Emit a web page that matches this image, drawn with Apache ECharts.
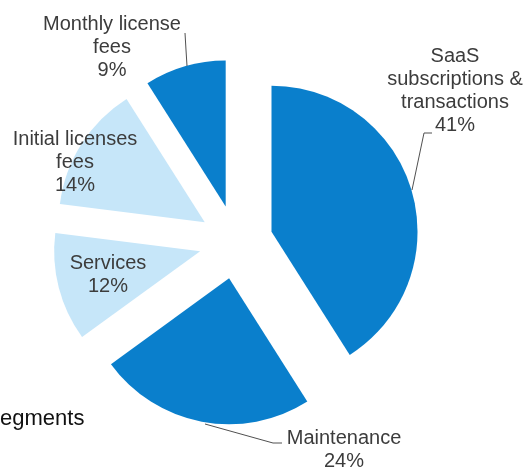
<!DOCTYPE html>
<html>
<head>
<meta charset="utf-8">
<script src="https://cdn.jsdelivr.net/npm/echarts@6/dist/echarts.min.js"></script>
<style>
html,body{margin:0;padding:0;background:#fff;}
#chart{width:531px;height:469px;}
</style>
</head>
<body>
<div id="chart"></div>
<script>
const categories = ['SaaS\nsubscriptions &\ntransactions', 'Maintenance', 'Services', 'Initial licenses\nfees', 'Monthly license\nfees'];
const values = [41, 24, 12, 14, 9];
const sliceColors = ['#0a7fcc', '#0a7fcc', '#c6e6f9', '#c6e6f9', '#0a7fcc'];
const titleText = 'egments';

// label anchor (block centre) and leader line per slice (layout only)
const labelPos = [
  { x: 455, y: 91, line: [[412, 190], [424, 133], [432, 133]] },
  { x: 344, y: 450, line: [[205, 424], [273, 443], [282, 443]] },
  { x: 108, y: 275, line: null },
  { x: 75, y: 162, line: null },
  { x: 112, y: 47, line: [[187, 66], [186, 50], [185, 33]] }
];

const chart = echarts.init(document.getElementById('chart'), null, { renderer: 'canvas' });
const common = {
  type: 'pie',
  center: [236, 242],
  radius: 146,
  startAngle: 90,
  clockwise: true,
  avoidLabelOverlap: false,
  emphasis: { disabled: true }
};
chart.setOption({
  animation: false,
  backgroundColor: '#ffffff',
  title: {
    text: titleText,
    left: 0,
    top: 408,
    padding: 0,
    textStyle: { fontFamily: 'Liberation Sans', fontSize: 22, fontWeight: 'normal', color: '#111111' }
  },
  series: [
    Object.assign({}, common, {
      selectedMode: 'multiple',
      selectedOffset: 37,
      label: { show: false },
      labelLine: { show: false },
      data: categories.map((name, i) => ({
        name: name,
        value: values[i],
        selected: true,
        itemStyle: { color: sliceColors[i] }
      }))
    }),
    Object.assign({}, common, {
      silent: true,
      z: 3,
      itemStyle: { color: 'rgba(0,0,0,0)' },
      label: {
        show: true,
        position: 'outside',
        formatter: '{b}\n{d}%',
        fontFamily: 'Liberation Sans',
        fontSize: 20,
        lineHeight: 23,
        color: '#3c3c3c',
        align: 'center'
      },
      labelLine: {
        show: true,
        smooth: false,
        lineStyle: { color: '#505050', width: 1 }
      },
      labelLayout: function (params) {
        const p = labelPos[params.dataIndex];
        const out = { x: p.x, y: p.y, align: 'center', verticalAlign: 'middle' };
        if (p.line) out.labelLinePoints = p.line;
        return out;
      },
      data: categories.map((name, i) => ({
        name: name,
        value: values[i],
        labelLine: { show: labelPos[i].line !== null }
      }))
    })
  ]
});
</script>
</body>
</html>
